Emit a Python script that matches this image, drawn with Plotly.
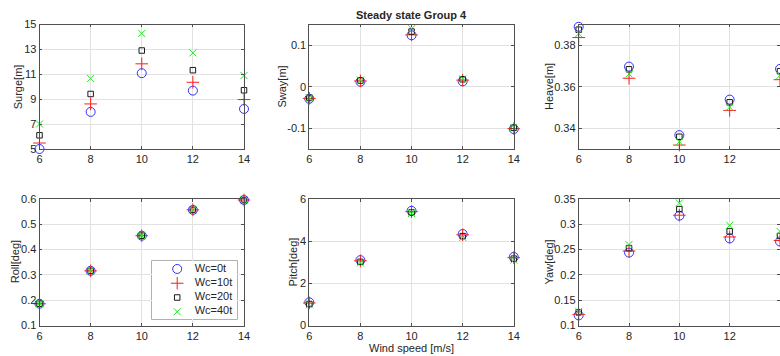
import plotly.graph_objects as go

# ---------------- data ----------------
wind = [6, 8, 10, 12, 14]
series_names = ["Wc=0t", "Wc=10t", "Wc=20t", "Wc=40t"]

surge = [
    [5.00, 7.98, 11.09, 9.69, 8.22],
    [5.48, 8.62, 11.84, 10.36, 8.97],
    [6.10, 9.42, 12.91, 11.33, 9.72],
    [7.01, 10.66, 14.28, 12.72, 10.90],
]
sway = [
    [-0.029, 0.012, 0.124, 0.013, -0.102],
    [-0.028, 0.014, 0.125, 0.016, -0.101],
    [-0.027, 0.015, 0.133, 0.018, -0.099],
    [-0.027, 0.016, 0.140, 0.019, -0.098],
]
heave = [
    [0.3889, 0.3697, 0.3367, 0.3538, 0.3686],
    [0.3837, 0.3641, 0.3319, 0.3486, 0.3634],
    [0.3875, 0.3684, 0.3359, 0.3525, 0.3675],
    [0.3856, 0.3662, 0.3335, 0.3502, 0.3655],
]
roll = [
    [0.186, 0.316, 0.455, 0.557, 0.596],
    [0.186, 0.316, 0.455, 0.557, 0.596],
    [0.186, 0.316, 0.455, 0.557, 0.596],
    [0.186, 0.316, 0.455, 0.557, 0.596],
]
pitch = [
    [1.10, 3.10, 5.44, 4.34, 3.25],
    [1.07, 3.07, 5.40, 4.30, 3.22],
    [1.02, 3.02, 5.36, 4.24, 3.17],
    [0.98, 2.97, 5.31, 4.18, 3.10],
]
yaw = [
    [0.120, 0.244, 0.317, 0.272, 0.266],
    [0.122, 0.247, 0.318, 0.275, 0.268],
    [0.126, 0.253, 0.330, 0.286, 0.277],
    [0.128, 0.260, 0.342, 0.298, 0.286],
]

panel_data = [surge, sway, heave, roll, pitch, yaw]
panel_titles = ["Surge[m]", "Sway[m]", "Heave[m]", "Roll[deg]", "Pitch[deg]", "Yaw[deg]"]
panel_ranges = [[5, 15], [-0.15, 0.15], [0.33, 0.39], [0.1, 0.6], [0, 6], [0.1, 0.35]]
panel_ticks = [
    [5, 7, 9, 11, 13, 15],
    [-0.1, 0, 0.1],
    [0.34, 0.36, 0.38],
    [0.1, 0.2, 0.3, 0.4, 0.5, 0.6],
    [0, 2, 4, 6],
    [0.1, 0.15, 0.2, 0.25, 0.3, 0.35],
]
panel_ticktext = [
    ["5", "7", "9", "11", "13", "15"],
    ["-0.1", "0", "0.1"],
    ["0.34", "0.36", "0.38"],
    ["0.1", "0.2", "0.3", "0.4", "0.5", "0.6"],
    ["0", "2", "4", "6"],
    ["0.1", "0.15", "0.2", "0.25", "0.3", "0.35"],
]
x_ticks = [6, 8, 10, 12, 14]
x_range = [6, 14]

# ---------------- style ----------------
W, H = 780, 356
symbols = ["circle-open", "cross-thin-open", "square-open", "x-thin-open"]
colors = ["#1a1aff", "#ff1a1a", "#1a1a1a", "#22e622"]
sizes = [9, 9, 5.5, 7]
lw = [0.9, 1, 1, 1]
FONT = "Liberation Sans, Arial, Helvetica, sans-serif"
AXC = "#262626"
LINEC = "#505050"
GRID = "#e2e2e2"

col_px = [(39.5, 244.0), (309.3, 513.8), (578.7, 780.0)]
row_px = [(24.5, 149.0), (199.0, 325.5)]
ytitle_gap = [22, 27.5, 29.5, 24.5, 16, 29.5]  # px from axis line to y-title centre


def axid(n):
    return "" if n == 1 else str(n)


fig = go.Figure()

for p in range(6):
    r, c = divmod(p, 3)
    ax = p + 1
    a = axid(ax)
    for s in range(4):
        fig.add_trace(go.Scatter(
            x=wind, y=panel_data[p][s], mode="markers", name=series_names[s],
            showlegend=False, cliponaxis=False, hoverinfo="skip",
            marker=dict(symbol=symbols[s], size=sizes[s], color=colors[s],
                        line=dict(color=colors[s], width=lw[s])),
            xaxis=f"x{a}", yaxis=f"y{a}",
        ))
    x0, x1 = col_px[c]
    y0, y1 = row_px[r]
    common = dict(showline=True, linecolor=LINEC, linewidth=0.8, mirror="ticks",
                  ticks="inside", ticklen=3, tickcolor=LINEC, tickwidth=0.8,
                  showgrid=True, gridcolor=GRID, gridwidth=1, zeroline=False,
                  tickfont=dict(family=FONT, size=11, color=AXC), automargin=False)
    fig.layout[f"xaxis{a}"] = dict(
        domain=[x0 / W, x1 / W], range=x_range, anchor=f"y{a}",
        tickvals=x_ticks, ticktext=[str(v) for v in x_ticks], **common)
    fig.layout[f"yaxis{a}"] = dict(
        domain=[1 - y1 / H, 1 - y0 / H], range=panel_ranges[p], anchor=f"x{a}",
        tickvals=panel_ticks[p], ticktext=panel_ticktext[p], **common)
    fig.add_annotation(text=panel_titles[p], textangle=-90, showarrow=False,
                       xref=f"x{a} domain", yref=f"y{a} domain", x=0, y=0.5,
                       xanchor="center", yanchor="middle", xshift=-ytitle_gap[p],
                       font=dict(family=FONT, size=11, color=AXC))

fig.layout["xaxis5"]["title"] = dict(text="Wind speed [m/s]", font=dict(family=FONT, size=11, color=AXC), standoff=2)

# ---------------- legend box (inside Roll panel) ----------------
leg_x0, leg_x1 = 151.7, 237.3
leg_y0, leg_y1 = 260.7, 319.3
leg_w = leg_x1 - leg_x0
for s in range(4):
    fig.add_trace(go.Scatter(
        x=[25.5], y=[s], mode="markers", showlegend=False, hoverinfo="skip",
        marker=dict(symbol=symbols[s], size=sizes[s], color=colors[s],
                    line=dict(color=colors[s], width=lw[s])),
        xaxis="x7", yaxis="y7", cliponaxis=False))
    fig.add_trace(go.Scatter(
        x=[43.0], y=[s], mode="text", text=[series_names[s]], textposition="middle right",
        showlegend=False, hoverinfo="skip",
        textfont=dict(family=FONT, size=11, color=AXC),
        xaxis="x7", yaxis="y7", cliponaxis=False))
fig.layout["xaxis7"] = dict(domain=[leg_x0 / W, leg_x1 / W], range=[0, leg_w], visible=False, anchor="y7")
fig.layout["yaxis7"] = dict(domain=[1 - leg_y1 / H, 1 - leg_y0 / H], range=[3.53, -0.58], visible=False, anchor="x7")
fig.add_shape(type="rect", xref="x7 domain", yref="y7 domain", x0=0, x1=1, y0=0, y1=1,
              fillcolor="white", line=dict(color=LINEC, width=0.8), layer="below")

# ---------------- title ----------------
fig.add_annotation(text="<b>Steady state Group 4</b>", xref="x2 domain", yref="y2 domain",
                   x=0.5, y=1, yanchor="bottom", yshift=1, showarrow=False,
                   font=dict(family=FONT, size=11, color=AXC))

fig.update_layout(width=W, height=H, margin=dict(l=0, r=0, t=0, b=0),
                  paper_bgcolor="white", plot_bgcolor="white",
                  font=dict(family=FONT, size=11, color=AXC), showlegend=False)

fig.write_html("out.html")
